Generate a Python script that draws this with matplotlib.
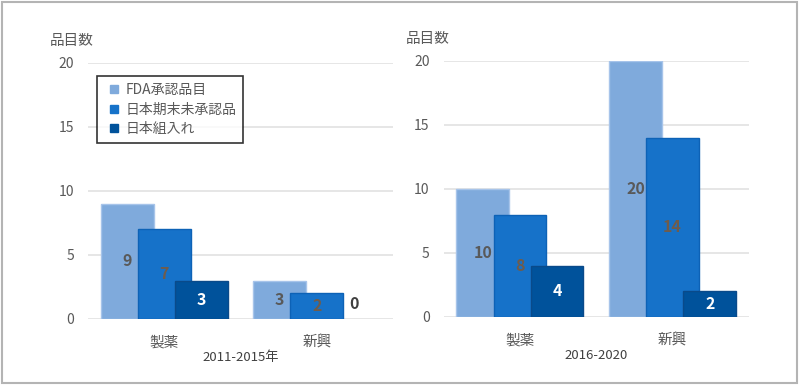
import matplotlib
matplotlib.use("Agg")
import matplotlib.pyplot as plt
from matplotlib.lines import Line2D
from matplotlib.patches import Rectangle

# ==========================================
# 1. DATA
# ==========================================
categories = ["製薬", "新興"]
series_names = ["FDA承認品目", "日本期末未承認品", "日本組入れ"]

# 2011-2015年
fda_2011 = [9, 3]
unapproved_2011 = [7, 2]
japan_2011 = [3, 0]

# 2016-2020
fda_2016 = [10, 20]
unapproved_2016 = [8, 14]
japan_2016 = [4, 2]

panel_titles = ["2011-2015年", "2016-2020"]
y_ticks = [0, 5, 10, 15, 20]

# ==========================================
# 2. STYLE
# ==========================================
plt.rcParams['font.family'] = ['Noto Sans CJK JP', 'DejaVu Sans']

colors = ["#7faadc", "#1672c9", "#00529b"]
edge_colors = ["#a7c4ea", "#0d62b6", "#0a4a8a"]
label_colors = ["#595959", "#6f5c4c", "white"]
grid_color = "#e2e2e2"
text_color = "#595959"

bar_w = 0.345
offset = 0.243


def draw_panel(ax, series_list, title):
    xs = range(len(categories))
    for i, vals in enumerate(series_list):
        pos = [x + (i - 1) * offset for x in xs]
        # no outline on empty bars, otherwise a dark stub shows on the baseline
        lws = [1.0 if v > 0 else 0 for v in vals]
        ax.bar(pos, vals, width=bar_w, color=colors[i],
               edgecolor=edge_colors[i], linewidth=lws, zorder=2 + i)
        for p, v in zip(pos, vals):
            if v > 0:
                ax.text(p, v / 2, str(v), ha='center', va='center',
                        fontsize=11.5, fontweight='bold',
                        color=label_colors[i], zorder=10)
            else:
                ax.annotate(str(v), (p, 0), xytext=(0, 11),
                            textcoords='offset points', ha='center',
                            va='center', fontsize=11.5, fontweight='bold',
                            color="#404040", zorder=10)

    ax.set_xlim(-0.5, len(categories) - 0.5)
    ax.set_ylim(0, 20)
    ax.set_yticks(y_ticks)
    ax.set_xticks(list(xs))
    ax.set_xticklabels(categories)
    ax.yaxis.grid(True, color=grid_color, linewidth=1.2, zorder=0)
    ax.set_axisbelow(True)
    for s in ax.spines.values():
        s.set_visible(False)
    ax.tick_params(axis='both', length=0, colors=text_color)
    ax.tick_params(axis='y', labelsize=10, pad=10)
    ax.tick_params(axis='x', labelsize=10.5, pad=12)
    ax.set_xlabel(title, fontsize=9.5, color="#404040", labelpad=1)
    ax.text(-0.052, 1.06, "品目数", transform=ax.transAxes, ha='center',
            va='bottom', fontsize=10.5, color=text_color)


# ==========================================
# 3. FIGURE
# ==========================================
fig = plt.figure(figsize=(8, 3.86), dpi=100)

ax1 = fig.add_axes([0.110, 0.1736, 0.3813, 0.6632])
ax2 = fig.add_axes([0.5544, 0.1788, 0.3819, 0.6632])

draw_panel(ax1, [fda_2011, unapproved_2011, japan_2011], panel_titles[0])
draw_panel(ax2, [fda_2016, unapproved_2016, japan_2016], panel_titles[1])

handles = [Line2D([], [], marker='s', linestyle='none', markersize=6,
                  markerfacecolor=c, markeredgecolor=c) for c in colors]
leg = fig.legend(handles, series_names, loc='upper left',
                 bbox_to_anchor=(97 / 800, 1 - 76 / 386),
                 bbox_transform=fig.transFigure, borderaxespad=0,
                 fancybox=False, frameon=True, fontsize=10,
                 handlelength=1.4, handletextpad=0.15, labelspacing=0.4,
                 borderpad=0.5)
leg.get_frame().set_edgecolor("black")
leg.get_frame().set_linewidth(1.2)
for t in leg.get_texts():
    t.set_color(text_color)

# outer border
fig.patches.append(Rectangle((0.003, 0.008), 0.993, 0.986,
                             transform=fig.transFigure, fill=False,
                             edgecolor="#b4b4b4", linewidth=1.5))

fig.savefig("out.png", dpi=100)
